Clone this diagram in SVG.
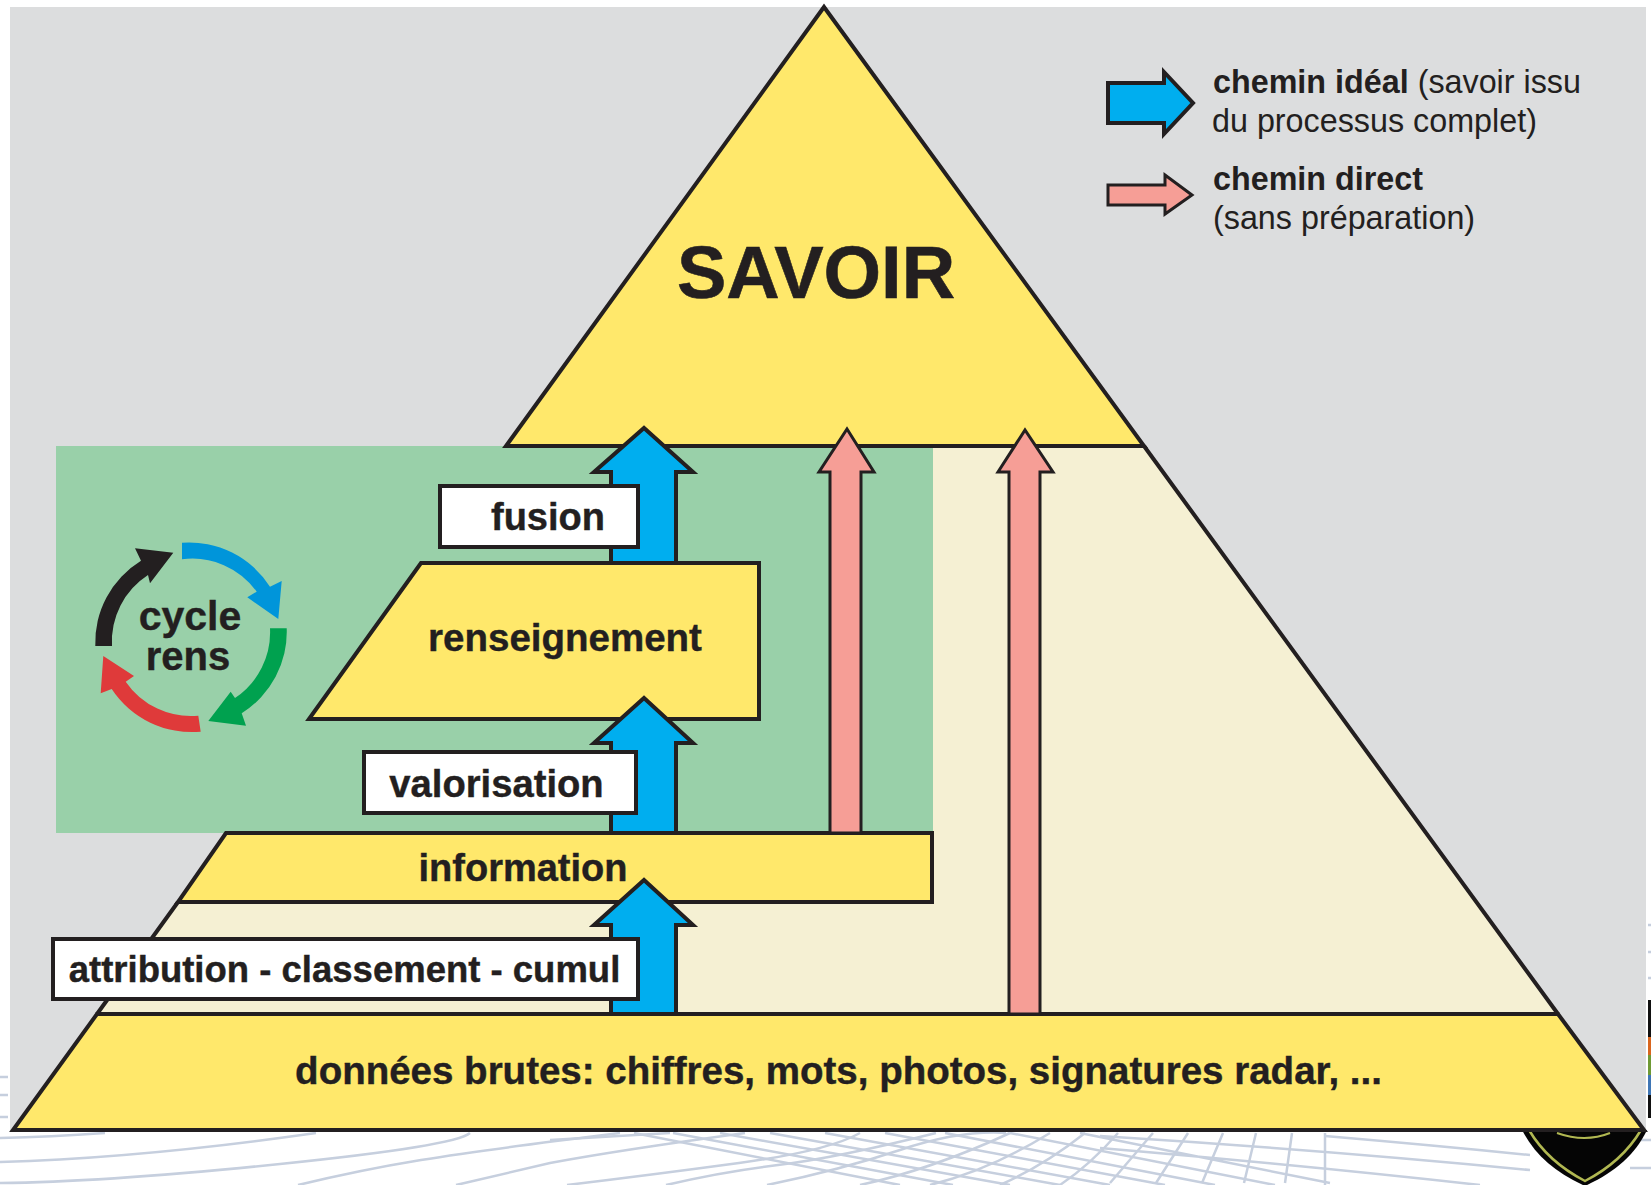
<svg xmlns="http://www.w3.org/2000/svg" width="1651" height="1185" viewBox="0 0 1651 1185">
<defs><filter id="soft" x="-5%" y="-20%" width="110%" height="140%"><feGaussianBlur stdDeviation="0.7"/></filter></defs>
<style>
text{font-family:"Liberation Sans",Arial,sans-serif;fill:#231f20}
.b{font-weight:700}
.n{stroke:#231f20;stroke-width:4;stroke-linejoin:miter}
.t{stroke-width:3}
.y{fill:#ffe86b}
.blue{fill:#00aeef}
.pink{fill:#f69e96}
.box{fill:#fff}
.l{font-size:38px;font-weight:700;text-anchor:middle;stroke:#231f20;stroke-width:.4}
.g{fill:none;stroke:#c6cfde;stroke-width:2.5}
.s{font-size:32.3px}
</style>
<rect width="1651" height="1185" fill="#fff"/>
<g id="background-grid" filter="url(#soft)">
<path class="g" d="M0 1138Q50 1137 105 1133M0 1162Q140 1158 316 1133M0 1183Q105 1182 280 1164T470 1133M298 1185Q360 1170 421 1160T620 1133M456 1185L550 1163Q620 1150 745 1133"/>
<path class="g" d="M550 1140L670 1133M567 1185Q650 1175 739 1163T860 1133M666 1185Q720 1172 778 1165T936 1133M767 1185Q840 1170 900 1150T1006 1133M860 1185Q930 1170 1010 1133M930 1185Q990 1170 1050 1133M1000 1185Q1045 1165 1085 1133M1060 1185Q1090 1165 1118 1133M1110 1183L1153 1133M1156 1183L1188 1133M1202 1183L1223 1133M1244 1183L1256 1133M1285 1183L1292 1133M1325 1133V1185"/>
<path class="g" d="M634 1133L900 1185M673 1133L953 1185M720 1133L1010 1185M770 1133L1060 1185M825 1133L1110 1185M885 1133L1165 1185M945 1133L1215 1185M1010 1133L1275 1185M1080 1133L1330 1183M1100 1148Q1300 1165 1480 1185M1100 1136Q1325 1150 1530 1170M1325 1136Q1430 1145 1530 1155"/>
<path class="g" d="M1641 1140H1651M1630 1168H1651"/>
<path class="g" d="M0 1077H8M0 1095H8M0 1117H8M1648 925H1651M1648 952H1651M1648 978H1651"/>
</g>
<g id="shield">
<path d="M1522 1130C1535 1155 1555 1172 1585 1186C1615 1172 1635 1155 1647 1130Z" fill="#050505"/>
<path d="M1529 1130C1542 1152 1560 1168 1585 1181C1610 1168 1628 1152 1641 1130" fill="none" stroke="#b1b852" stroke-width="2.5"/>
<path d="M1557 1133Q1585 1143 1610 1133" fill="none" stroke="#b1b852" stroke-width="2"/>
<rect x="1648" y="1000" width="3" height="118" fill="#111"/>
<rect x="1648" y="1037" width="3" height="18" fill="#d9661f"/>
<rect x="1648" y="1055" width="3" height="20" fill="#6f9a35"/>
<rect x="1648" y="1075" width="3" height="20" fill="#3f76b5"/>
</g>
<rect id="panel" x="10" y="7" width="1636" height="1123" fill="#dcddde"/>
<g id="green-zone"><rect x="56" y="446" width="877" height="387" fill="#99d0a9"/></g>
<g id="cream-zone">
<path d="M933 446H1144L1558 1014H97L178 902H932V833H933Z" fill="#f5f0d3"/>
<path class="n" d="M1144 446L1558 1014M178 902L97 1014" fill="none"/>
</g>
<g id="node-savoir">
<path class="n y" d="M824 7L1144 446H506Z"/>
<text class="b" x="816" y="298" font-size="74" text-anchor="middle" stroke="#231f20" stroke-width=".6">SAVOIR</text>
</g>
<g id="node-renseignement">
<path class="n y" d="M421 563H759V719H309Z"/>
<text class="l" x="565" y="651" style="font-size:38.5px">renseignement</text>
</g>
<g id="node-information">
<path class="n y" d="M226 833H932V902H178Z"/>
<text class="l" x="523" y="881">information</text>
</g>
<g id="node-donnees">
<path class="n y" d="M97 1014H1558L1644 1130H13Z"/>
<text class="l" x="838.500" y="1084" style="font-size:38.5px">données brutes: chiffres, mots, photos, signatures radar, ...</text>
</g>
<g id="connectors">
<path class="n blue" d="M611 563V472H594L644 428L693 472H676V563Z"/>
<path class="n blue" d="M611 833V743H594L644 698L693 743H676V833Z"/>
<path class="n blue" d="M611 1014V925H594L644 880L693 925H676V1014Z"/>
<path class="n pink t" d="M830 833V472H819L847 429L874 472H861V833Z"/>
<path class="n pink t" d="M1009 1014V472H998L1025 430L1053 472H1040V1014Z"/>
</g>
<g id="node-fusion">
<rect class="n box" x="440" y="486" width="198" height="61"/>
<text class="l" x="548" y="530">fusion</text>
</g>
<g id="node-valorisation">
<rect class="n box" x="364" y="752" width="272" height="61"/>
<text class="l" x="496.500" y="797" style="font-size:38.2px">valorisation</text>
</g>
<g id="node-attribution">
<rect class="n box" x="53" y="939" width="585" height="60"/>
<text class="l" x="344.500" y="982" style="font-size:36.5px">attribution - classement - cumul</text>
</g>
<g id="node-cycle">
<path fill="#231f20" d="M95.300 646A96 96 0 0 1 141 560.700L135 548.300L173.300 552.700L150 583.300L148 575A79 79 0 0 0 112 646Z"/>
<path fill="#0095da" d="M182 542.700A96 96 0 0 1 270 586.700L281.700 581L278.300 619L247.300 597.300L256.700 591.700A79 79 0 0 0 182 559.300Z"/>
<path fill="#00a14f" d="M286.700 628.300A96 96 0 0 1 241.700 713.300L246 725.700L208.300 721L230.700 691.700L235 698A79 79 0 0 0 270 628.300Z"/>
<path fill="#df3a3a" d="M200.700 731.700A96 96 0 0 1 111.700 689L100.700 693.300L103.300 656L134 676L125.700 681.700A79 79 0 0 0 198.300 715.700Z"/>
<text class="l" x="190" y="630" style="font-size:41px">cycle</text>
<text class="l" x="188" y="670" style="font-size:40px">rens</text>
</g>
<g id="legend">
<path class="n blue" d="M1108 83H1164V72L1193 103L1164 134V123H1108Z"/>
<path class="n pink t" d="M1108 185H1165V175L1192 195L1165 214V205H1108Z"/>
<text class="s" x="1213" y="93"><tspan class="b">chemin idéal</tspan> (savoir issu</text>
<text class="s" x="1212" y="132">du processus complet)</text>
<text class="s b" x="1213" y="190">chemin direct</text>
<text class="s" x="1213" y="229">(sans préparation)</text>
</g>
</svg>
